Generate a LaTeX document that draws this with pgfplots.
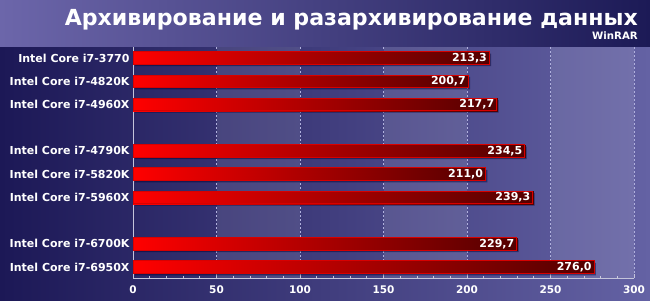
\documentclass[border=0pt]{standalone}
\usepackage{pgfplots}
\pgfplotsset{compat=1.18}
\usepgfplotslibrary{patchplots}
\usepackage{pgfplotstable}
\usepackage{fontspec}
\setmainfont{DejaVu Sans}
\definecolor{bodyL}{HTML}{1C1856}
\definecolor{bodyR}{HTML}{6462A4}
\definecolor{hdrL}{HTML}{6C66AA}
\definecolor{hdrR}{HTML}{1C1A56}
\definecolor{barEdge}{HTML}{D80000}
\definecolor{axgray}{HTML}{C4C4DA}
\definecolor{gridc}{HTML}{B0B0DC}
\pgfplotstableread{
pos val
0 213.3
1 200.7
2 217.7
4 234.5
5 211.0
6 239.3
8 229.7
9 276.0
}\datatable
% bar fills: corners of each bar, c = 0 at bar start, 1 at bar end
\pgfplotstableread{
x y c
0 -0.27 0
213.3 -0.27 1
213.3 0.27 1
0 0.27 0
0 0.73 0
200.7 0.73 1
200.7 1.27 1
0 1.27 0
0 1.73 0
217.7 1.73 1
217.7 2.27 1
0 2.27 0
0 3.73 0
234.5 3.73 1
234.5 4.27 1
0 4.27 0
0 4.73 0
211.0 4.73 1
211.0 5.27 1
0 5.27 0
0 5.73 0
239.3 5.73 1
239.3 6.27 1
0 6.27 0
0 7.73 0
229.7 7.73 1
229.7 8.27 1
0 8.27 0
0 8.73 0
276.0 8.73 1
276.0 9.27 1
0 9.27 0
}\bartable
\begin{document}
\begin{tikzpicture}[x=1pt,y=1pt]
\useasboundingbox (0,0) rectangle (650,300);
\shade[left color=bodyL, right color=bodyR] (0,0) rectangle (650,253);
\shade[left color=hdrL, right color=hdrR] (0,253) rectangle (650,300);
\node[anchor=base east, font=\bfseries\fontsize{22.1}{22.1}\selectfont, text=white, inner sep=0pt] at (638,274.8) {Архивирование и разархивирование данных};
\node[anchor=base east, font=\bfseries\fontsize{10.2}{10.2}\selectfont, text=white, inner sep=0pt] at (638,260.8) {WinRAR};
\begin{axis}[
  at={(133pt,22pt)}, anchor=south west,
  scale only axis, width=501pt, height=231pt,
  xmin=0, xmax=300, ymin=-0.47, ymax=9.47, y dir=reverse,
  axis x line*=bottom, axis y line*=left,
  axis line style={axgray, line width=0.8pt},
  xtick={0,50,...,300}, minor x tick num=4,
  tick align=inside,
  major tick length=4pt, minor tick length=2.5pt,
  xtick style={axgray, line width=0.8pt},
  ytick style={draw=none},
  ytick={0,1,2,4,5,6,8,9},
  yticklabels={Intel Core i7-3770,Intel Core i7-4820K,Intel Core i7-4960X,Intel Core i7-4790K,Intel Core i7-5820K,Intel Core i7-5960X,Intel Core i7-6700K,Intel Core i7-6950X},
  xmajorgrids,
  major grid style={gridc, dash pattern=on 2pt off 2pt, line width=0.6pt},
  /pgf/number format/assume math mode=true,
  ticklabel style={text=white, font=\bfseries\fontsize{10.5}{10.5}\selectfont},
  yticklabel style={font=\bfseries\fontsize{11}{11}\selectfont},
  xticklabel style={yshift=-4pt},
  colormap={barmap}{rgb255=(255,0,0) rgb255=(82,0,0)},
  point meta min=0, point meta max=1,
]
\fill[white, opacity=0.1] (axis cs:50,-0.47) rectangle (axis cs:100,9.47);
\fill[white, opacity=0.1] (axis cs:150,-0.47) rectangle (axis cs:200,9.47);
\fill[white, opacity=0.1] (axis cs:250,-0.47) rectangle (axis cs:300,9.47);
% shadow
\addplot[xbar, bar width=0.54, bar shift=0pt, draw=none, fill=black!80!blue, fill opacity=0.45,
  transform canvas={xshift=2pt, yshift=-2pt}, forget plot] table[x=val, y=pos] {\datatable};
% gradient fill
\addplot[patch, patch type=rectangle, shader=interp, forget plot,
  point meta=explicit] table[x=x, y=y, meta=c] {\bartable};
% outline and values
\addplot[xbar, bar width=0.54, bar shift=0pt, draw=barEdge, line width=0.7pt, fill=none,
  nodes near coords={\pgfmathprintnumber[fixed,fixed zerofill,precision=1,use comma]{\pgfplotspointmeta}},
  nodes near coords style={anchor=east, text=white, font=\bfseries\fontsize{11}{11}\selectfont, xshift=-1pt, inner sep=1pt},
  ] table[x=val, y=pos] {\datatable};
\end{axis}
\end{tikzpicture}
\end{document}
